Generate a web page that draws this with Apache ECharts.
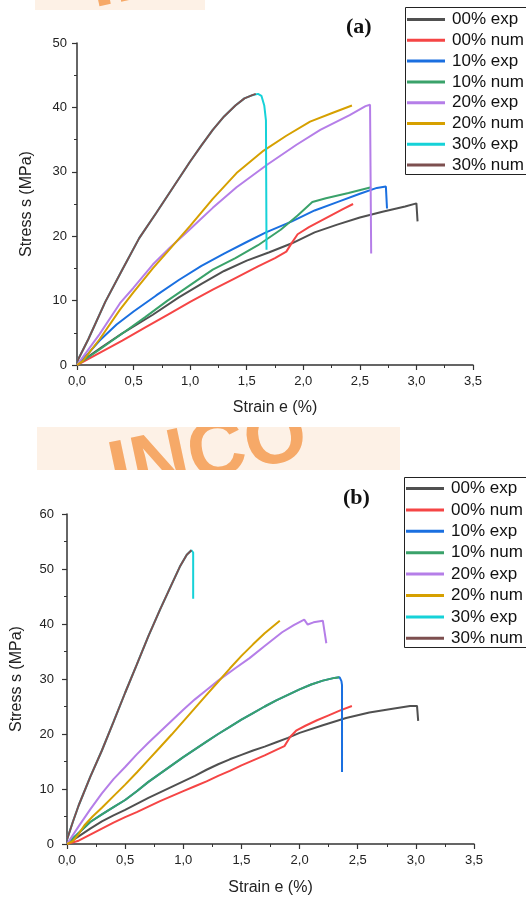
<!DOCTYPE html>
<html>
<head>
<meta charset="utf-8">
<script src="https://cdn.jsdelivr.net/npm/echarts@6/dist/echarts.min.js"></script>
<style>
  html, body { margin: 0; padding: 0; background: #fff; }
  #wrap { position: relative; width: 526px; height: 899px; }
  #chart { position: absolute; left: 0; top: 0; width: 526px; height: 899px; }
  /* faint watermark remnants behind the (transparent) chart canvas */
  .wm { position: absolute; overflow: hidden; background: #fdf1e6; }
  .wm span { position: absolute; font: bold 80px "Liberation Sans", Arial, sans-serif; color: #f6a968;
             line-height: 1; white-space: nowrap; transform-origin: 0 100%; transform: rotate(-12deg); }
</style>
</head>
<body>
<div id="wrap">
  <div class="wm" style="left:35px; top:0; width:170px; height:10px;"><span style="left:62px; top:-60px;">INCO</span></div>
  <div class="wm" style="left:37px; top:427px; width:363px; height:43px;"><span style="left:81px; top:3px;">INCO</span></div>
  <div id="chart"></div>
</div>
<script>
// series names (shared by both panels)
const names = ['00% exp', '00% num', '10% exp', '10% num', '20% exp', '20% num', '30% exp', '30% num'];
const colors = ['#505050', '#f54545', '#1a6fe0', '#3aa26a', '#b57ee8', '#d6a000', '#16d2d8', '#7d4f4f'];
const xTicks = [0, 0.5, 1, 1.5, 2, 2.5, 3, 3.5];

// panel (a) : [strain %, stress MPa]
const a00exp = [[0,0],[0.1,1.3],[0.22,2.8],[0.4,4.9],[0.67,7.8],[0.9,10.5],[1.1,12.6],[1.3,14.6],[1.5,16.2],[1.7,17.5],[1.9,18.9],[2.1,20.6],[2.3,21.8],[2.5,22.9],[2.7,23.8],[2.9,24.6],[3.0,25.1],[3.01,22.3]];
const a00num = [[0,0],[0.2,1.9],[0.4,3.8],[0.6,5.8],[0.8,7.8],[1.0,9.8],[1.2,11.7],[1.4,13.5],[1.6,15.3],[1.75,16.6],[1.85,17.6],[1.9,19.0],[1.95,20.3],[2.05,21.4],[2.2,22.8],[2.35,24.2],[2.44,25.0]];
const a10exp = [[0,0],[0.1,1.8],[0.2,3.8],[0.35,6.3],[0.5,8.3],[0.7,10.8],[0.9,13.2],[1.1,15.4],[1.3,17.3],[1.5,19.1],[1.67,20.6],[1.9,22.3],[2.1,24.0],[2.3,25.3],[2.5,26.6],[2.65,27.5],[2.73,27.7],[2.74,24.3]];
const a10num = [[0,0],[0.2,2.4],[0.4,4.9],[0.6,7.4],[0.8,10.0],[1.0,12.4],[1.2,14.8],[1.4,16.6],[1.6,18.6],[1.8,21.0],[1.95,23.2],[2.08,25.3],[2.2,25.9],[2.4,26.7],[2.6,27.6]];
const a20exp = [[0,0],[0.1,2.4],[0.2,4.8],[0.38,9.6],[0.5,12.0],[0.67,15.6],[0.82,18.2],[0.97,20.6],[1.09,22.6],[1.2,24.4],[1.41,27.6],[1.68,31.1],[1.94,34.2],[2.15,36.5],[2.41,38.8],[2.55,40.2],[2.59,40.4],[2.6,17.3]];
const a20num = [[0,0],[0.05,0.6],[0.2,4.0],[0.38,8.6],[0.5,11.3],[0.67,15.0],[0.82,18.0],[1.0,21.6],[1.2,25.8],[1.41,29.8],[1.65,33.3],[1.85,35.6],[2.06,37.8],[2.25,39.1],[2.43,40.3]];
const a30exp = [[0,0.5],[0.1,4],[0.25,9.8],[0.4,14.8],[0.55,19.7],[0.7,23.6],[0.85,27.6],[1.0,31.6],[1.1,34.1],[1.2,36.5],[1.3,38.6],[1.4,40.3],[1.48,41.4],[1.55,41.9],[1.6,42.1],[1.63,41.8],[1.655,40.3],[1.67,38.0],[1.675,17.9]];
const a30num = [[0,0.5],[0.1,4],[0.25,9.8],[0.4,14.8],[0.55,19.7],[0.7,23.6],[0.85,27.6],[1.0,31.6],[1.1,34.1],[1.2,36.5],[1.3,38.6],[1.4,40.3],[1.48,41.4],[1.55,41.9],[1.58,42.1]];

// panel (b)
const b00exp = [[0,0],[0.1,1.4],[0.2,2.8],[0.3,4.1],[0.4,5.2],[0.5,6.2],[0.6,7.3],[0.7,8.4],[0.8,9.4],[0.9,10.4],[1.0,11.4],[1.1,12.4],[1.2,13.5],[1.3,14.5],[1.4,15.4],[1.5,16.2],[1.6,17.0],[1.7,17.7],[1.8,18.5],[1.9,19.3],[2.0,20.2],[2.2,21.6],[2.4,22.9],[2.6,23.9],[2.8,24.6],[2.95,25.1],[3.01,25.1],[3.02,22.4]];
const b00num = [[0,0],[0.1,0.6],[0.2,1.7],[0.3,2.8],[0.4,3.9],[0.5,4.9],[0.6,5.8],[0.7,6.8],[0.8,7.8],[0.9,8.7],[1.0,9.6],[1.1,10.5],[1.2,11.4],[1.3,12.4],[1.4,13.3],[1.5,14.3],[1.6,15.2],[1.7,16.1],[1.8,17.1],[1.87,17.8],[1.92,19.5],[1.97,20.6],[2.05,21.5],[2.15,22.5],[2.25,23.4],[2.35,24.3],[2.45,25.1]];
const b10exp = [[0,0],[0.1,2.0],[0.2,4.0],[0.3,5.4],[0.4,6.7],[0.5,8.0],[0.6,9.6],[0.7,11.3],[0.8,12.8],[0.9,14.3],[1.0,15.8],[1.1,17.2],[1.2,18.6],[1.3,20.0],[1.4,21.3],[1.5,22.6],[1.6,23.8],[1.7,25.0],[1.8,26.1],[1.9,27.1],[2.0,28.1],[2.1,29.0],[2.2,29.7],[2.3,30.2],[2.345,30.3],[2.36,29.6],[2.365,28.9],[2.365,13.1]];
const b10num = [[0,0],[0.1,2.0],[0.2,4.0],[0.3,5.4],[0.4,6.7],[0.5,8.0],[0.6,9.6],[0.7,11.3],[0.8,12.8],[0.9,14.3],[1.0,15.8],[1.1,17.2],[1.2,18.6],[1.3,20.0],[1.4,21.3],[1.5,22.6],[1.6,23.8],[1.7,25.0],[1.8,26.1],[1.9,27.1],[2.0,28.1],[2.1,29.0],[2.2,29.7],[2.3,30.2],[2.34,30.3]];
const b20exp = [[0,0],[0.1,3.2],[0.2,6.3],[0.3,9.2],[0.4,11.8],[0.5,14.0],[0.6,16.3],[0.7,18.4],[0.8,20.4],[0.9,22.4],[1.0,24.4],[1.1,26.3],[1.2,28.0],[1.3,29.7],[1.45,32.0],[1.57,33.8],[1.7,36.0],[1.85,38.5],[1.95,39.8],[2.04,40.8],[2.07,39.9],[2.12,40.3],[2.2,40.6],[2.21,40.3],[2.23,36.5]];
const b20num = [[0,0],[0.05,0.5],[0.1,1.8],[0.15,3.4],[0.22,5.0],[0.3,6.6],[0.4,8.7],[0.5,10.8],[0.6,13.0],[0.7,15.3],[0.8,17.6],[0.9,19.9],[1.0,22.3],[1.1,24.7],[1.2,27.1],[1.3,29.5],[1.4,31.9],[1.5,34.2],[1.6,36.3],[1.7,38.3],[1.83,40.6]];
const b30exp = [[0,0.8],[0.05,4.0],[0.1,7.0],[0.2,12.2],[0.3,17.0],[0.4,22.2],[0.5,27.5],[0.6,32.6],[0.7,37.8],[0.8,42.6],[0.9,47.2],[0.97,50.4],[1.03,52.6],[1.07,53.4],[1.085,53.0],[1.085,44.6]];
const b30num = [[0,0.8],[0.05,4.0],[0.1,7.0],[0.2,12.2],[0.3,17.0],[0.4,22.2],[0.5,27.5],[0.6,32.6],[0.7,37.8],[0.8,42.6],[0.9,47.2],[0.97,50.4],[1.03,52.6],[1.07,53.4]];

const panelA = [a00exp, a00num, a10exp, a10num, a20exp, a20num, a30exp, a30num];
const panelB = [b00exp, b00num, b10exp, b10num, b20exp, b20num, b30exp, b30num];

const font = '"Liberation Sans", Arial, sans-serif';
const axisCol = '#333';

function xAxisFor(grid, gap) {
  return {
    type: 'value', gridIndex: grid, min: 0, max: 3.5, interval: 0.5,
    name: 'Strain e (%)', nameLocation: 'middle', nameGap: gap,
    nameTextStyle: { fontFamily: font, fontSize: 16, color: '#222' },
    axisLine: { show: true, onZero: false, lineStyle: { color: axisCol, width: 1.5 } },
    axisTick: { show: true, length: 5, lineStyle: { color: axisCol, width: 1.2 } },
    minorTick: { show: true, splitNumber: 2, length: 3, lineStyle: { color: axisCol, width: 1 } },
    splitLine: { show: false },
    axisLabel: {
      fontFamily: font, fontSize: 13, color: '#222', margin: 10,
      formatter: v => xTicks.includes(v) ? v.toFixed(1).replace('.', ',') : ''
    }
  };
}

function yAxisFor(grid, max, margin) {
  return {
    type: 'value', gridIndex: grid, min: 0, max: max, interval: 10,
    name: 'Stress s (MPa)', nameLocation: 'middle', nameGap: 42, nameRotate: 90,
    nameTextStyle: { fontFamily: font, fontSize: 16, color: '#222' },
    axisLine: { show: true, onZero: false, lineStyle: { color: axisCol, width: 1.5 } },
    axisTick: { show: true, length: 5, lineStyle: { color: axisCol, width: 1.2 } },
    minorTick: { show: true, splitNumber: 2, length: 3, lineStyle: { color: axisCol, width: 1 } },
    splitLine: { show: false },
    axisLabel: { fontFamily: font, fontSize: 13, color: '#222', margin: margin }
  };
}

// legend without its own border; the frame is drawn as a graphic so it can run off the page
function legendFor(left, top, gap, pad) {
  return {
    orient: 'vertical', left: left, top: top, itemGap: gap,
    icon: 'rect', itemWidth: 38, itemHeight: 3,
    padding: [pad, 0, pad, 2],
    textStyle: { fontFamily: font, fontSize: 17, lineHeight: 16, color: '#111', padding: [0, 0, 0, 2] },
    data: names
  };
}

const series = [];
[panelA, panelB].forEach((panel, g) => {
  panel.forEach((d, i) => {
    series.push({
      name: names[i], type: 'line', xAxisIndex: g, yAxisIndex: g,
      data: d, showSymbol: false, symbol: 'none', smooth: false,
      lineStyle: { color: colors[i], width: 2 }, itemStyle: { color: colors[i] },
      emphasis: { disabled: true }
    });
  });
});

const markFont = 'bold 22px "Liberation Serif", "Times New Roman", serif';
const chart = echarts.init(document.getElementById('chart'), null, { renderer: 'canvas' });
chart.setOption({
  animation: false,
  backgroundColor: 'transparent',
  grid: [
    { left: 77, top: 43, width: 396, height: 322, outerBoundsMode: 'none' },
    { left: 67, top: 514, width: 407, height: 330, outerBoundsMode: 'none' }
  ],
  xAxis: [xAxisFor(0, 35), xAxisFor(1, 36)],
  yAxis: [yAxisFor(0, 50, 10), yAxisFor(1, 60, 13)],
  legend: [legendFor(405, 8, 3.8, 3), legendFor(404, 478, 4.4, 2)],
  graphic: [
    { type: 'rect', shape: { x: 405.5, y: 7.5, width: 200, height: 167 }, style: { fill: '#fff', stroke: '#222', lineWidth: 1 } },
    { type: 'rect', shape: { x: 404.5, y: 477.5, width: 200, height: 170 }, style: { fill: '#fff', stroke: '#222', lineWidth: 1 } },
    { type: 'text', left: 346, top: 16, style: { text: '(a)', font: markFont, fill: '#111' } },
    { type: 'text', left: 343, top: 487, style: { text: '(b)', font: markFont, fill: '#111' } }
  ],
  series: series
});
</script>
</body>
</html>
